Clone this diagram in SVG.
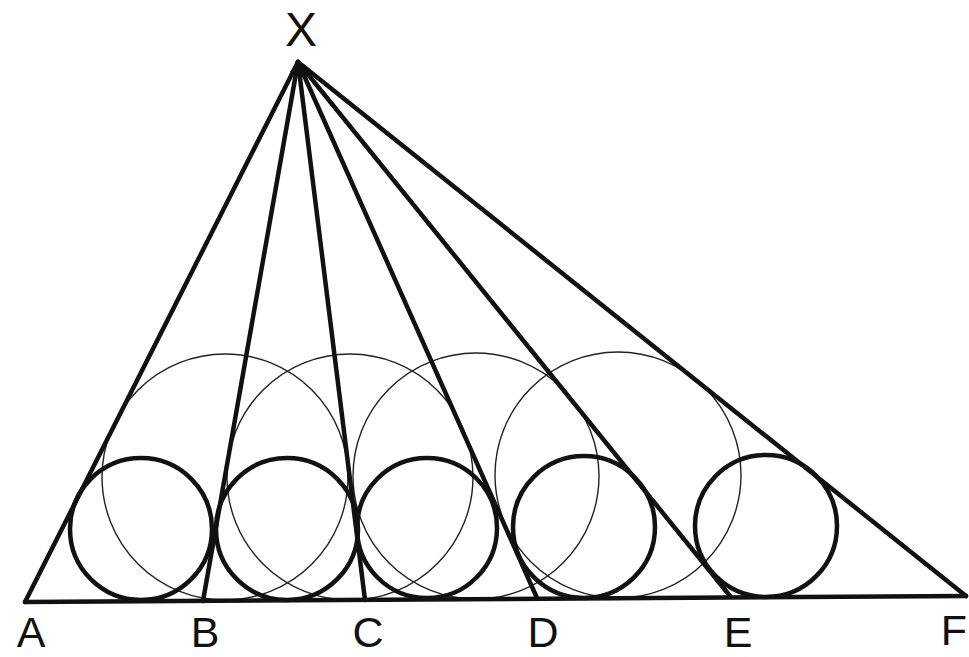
<svg xmlns="http://www.w3.org/2000/svg" width="969" height="657" viewBox="0 0 969 657">
<style>
.thick{fill:none;stroke:#111;stroke-width:4.5}
.thin{fill:none;stroke:#222;stroke-width:1.4}
.ln{stroke:#111;stroke-width:4.5;stroke-linecap:round;fill:none}
.lbl{font-family:"Liberation Sans",Arial,sans-serif;font-size:43px;fill:#111;text-anchor:middle}
</style>
<rect width="969" height="657" fill="#fff"/>
<g id="thin-circles">
<circle class="thin" cx="225" cy="477" r="123"/>
<circle class="thin" cx="350" cy="477" r="123"/>
<circle class="thin" cx="476" cy="476" r="123"/>
<circle class="thin" cx="618" cy="475" r="123"/>
</g>
<g id="connectors">
<line class="ln" x1="298" y1="62" x2="25" y2="602"/>
<line class="ln" x1="298" y1="62" x2="203" y2="601"/>
<line class="ln" x1="298" y1="62" x2="365" y2="600"/>
<line class="ln" x1="298" y1="62" x2="537" y2="598"/>
<line class="ln" x1="298" y1="62" x2="730" y2="596"/>
<line class="ln" x1="298" y1="62" x2="966" y2="596"/>
<line class="ln" x1="25" y1="602" x2="966" y2="596"/>
<polygon points="298,60 290,72 310,72" fill="#111"/>
</g>
<g id="incircle-1"><circle class="thick" cx="141" cy="529" r="71"/></g>
<g id="incircle-2"><circle class="thick" cx="287" cy="529" r="71"/></g>
<g id="incircle-3"><circle class="thick" cx="427" cy="528" r="70"/></g>
<g id="incircle-4"><circle class="thick" cx="584" cy="527" r="71"/></g>
<g id="incircle-5"><circle class="thick" cx="766" cy="526" r="71"/></g>
<g id="node-X"><text class="lbl" x="301" y="46" style="font-size:48px">X</text></g>
<g id="node-A"><text class="lbl" x="31" y="647">A</text></g>
<g id="node-B"><text class="lbl" x="205" y="647">B</text></g>
<g id="node-C"><text class="lbl" x="368" y="647">C</text></g>
<g id="node-D"><text class="lbl" x="543" y="647">D</text></g>
<g id="node-E"><text class="lbl" x="738" y="647">E</text></g>
<g id="node-F"><text class="lbl" x="954" y="645">F</text></g>
</svg>
